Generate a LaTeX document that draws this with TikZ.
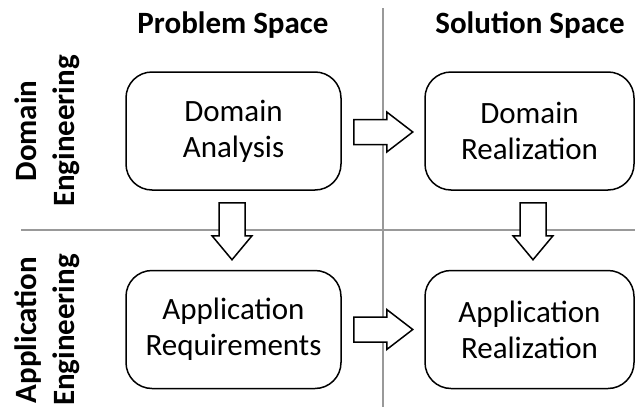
\documentclass[tikz,border=0pt]{standalone}
\usepackage{fontspec}
\setmainfont{Carlito}
\usetikzlibrary{calc}
\begin{document}
\begin{tikzpicture}[x=1pt,y=-1pt,
  box/.style={draw, line width=1.5pt, rounded corners=26pt, minimum width=215pt, minimum height=118pt, inner sep=0pt, align=center, font=\fontsize{31}{36}\selectfont},
  arrowline/.style={draw, fill=white, line width=1.5pt},
  rarrow/.pic={\path[arrowline] (0,-12.5) -- (33,-12.5) -- (33,-20) -- (59,0) -- (33,20) -- (33,12.5) -- (0,12.5) -- cycle;},
  darrow/.pic={\path[arrowline] (-13,0) -- (-13,33) -- (-20,33) -- (0,57) -- (20,33) -- (13,33) -- (13,0) -- cycle;},
  divider/.style={draw=black!40, line width=1.3pt},
  header/.style={font=\fontsize{31}{38}\selectfont\bfseries},
  side/.style={font=\fontsize{31}{38}\selectfont\bfseries, align=center, rotate=90}]
\useasboundingbox (0,0) rectangle (635,407);
\coordinate (vtop) at (383,8);
\coordinate (vbot) at (383,407);
\coordinate (hleft) at (21,230);
\coordinate (hright) at (635,230);
\draw[divider] (vtop) -- (vbot);
\draw[divider] (hleft) -- (hright);
\node[header] (ps) at (233,25) {Problem Space};
\node[header] (ss) at (530,25) {Solution Space};
\node[side] (de) at (47,131) {Domain\\Engineering};
\node[side] (ae) at (47,330) {Application\\Engineering};
\node[box] (da) at (233.5,131) {Domain\\Analysis};
\node[box, minimum width=209pt] (dr) at (529.5,131) {Domain\\Realization};
\node[box] (ar) at (233.5,329.5) {Application\\Requirements};
\node[box, minimum width=209pt] (re) at (529.5,329.5) {Application\\Realization};
\pic at ($(da.east)+(12,1)$) {rarrow};
\pic at ($(ar.east)+(12,0)$) {rarrow};
\pic at ($(da.south)+(-1.5,12)$) {darrow};
\pic at ($(dr.south)+(3.5,12)$) {darrow};
\end{tikzpicture}
\end{document}
